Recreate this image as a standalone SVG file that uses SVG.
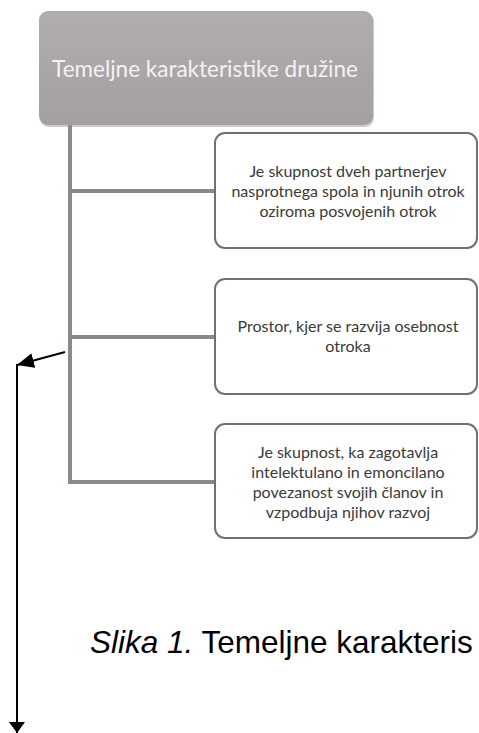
<svg xmlns="http://www.w3.org/2000/svg" width="479" height="733" viewBox="0 0 479 733">
<style>
.box{fill:#ffffff;stroke:#737071;stroke-width:2}
.t{font-family:Lato,"Open Sans",sans-serif;font-size:16px;fill:#3a3a3a;text-anchor:middle}
.g{stroke:#8c8889;stroke-width:4;fill:none}
.k{stroke:#000;stroke-width:2;fill:none}
</style>
<defs>
<marker id="ah" viewBox="0 0 11 16" refX="11" refY="8" markerWidth="11" markerHeight="16" markerUnits="userSpaceOnUse" orient="auto"><path d="M0,0 L11,8 L0,16 z" fill="#000"/></marker>
<marker id="ad" viewBox="0 0 17 15" refX="17" refY="7.5" markerWidth="17" markerHeight="15" markerUnits="userSpaceOnUse" orient="auto"><path d="M0,0 L17,7.5 L0,15 z" fill="#000"/></marker>
<linearGradient id="gr" x1="0" y1="0" x2="0" y2="1"><stop offset="0" stop-color="#b1adae"/><stop offset="1" stop-color="#a49fa0"/></linearGradient>
</defs>
<g id="connectors">
<path class="g" d="M70,124 V484 M70,191 H215 M70,337 H215 M68,482 H215"/>
<line class="k" x1="65" y1="352" x2="17" y2="365" marker-end="url(#ad)"/>
<line class="k" x1="17" y1="364" x2="17" y2="733" marker-end="url(#ah)"/>
</g>
<g id="top">
<rect x="39" y="11" width="334" height="114" rx="9" fill="#9a9697" transform="translate(1,2)" opacity="0.5"/>
<rect x="39" y="11" width="334" height="114" rx="9" fill="url(#gr)"/>
<text x="205" y="77" font-family="Lato,'Open Sans',sans-serif" font-size="22.5" fill="#f4f2f2" text-anchor="middle">Temeljne karakteristike družine</text>
</g>
<g id="n1">
<rect class="box" x="215" y="133" width="262" height="115" rx="10"/>
<text class="t" x="348" y="177">Je skupnost dveh partnerjev</text>
<text class="t" x="348" y="197">nasprotnega spola in njunih otrok</text>
<text class="t" x="348" y="217">oziroma posvojenih otrok</text>
</g>
<g id="n2">
<rect class="box" x="215" y="279" width="262" height="115" rx="10"/>
<text class="t" x="348" y="332">Prostor, kjer se razvija osebnost</text>
<text class="t" x="348" y="352">otroka</text>
</g>
<g id="n3">
<rect class="box" x="215" y="424" width="262" height="114" rx="10"/>
<text class="t" x="348" y="458">Je skupnost, ka zagotavlja</text>
<text class="t" x="348" y="478">intelektulano in emoncilano</text>
<text class="t" x="348" y="498">povezanost svojih članov in</text>
<text class="t" x="348" y="518">vzpodbuja njihov razvoj</text>
</g>
<text x="90" y="653" font-family="'Liberation Sans',Arial,sans-serif" font-size="31.5" fill="#000"><tspan font-style="italic">Slika 1.</tspan> Temeljne karakteris</text>
</svg>
